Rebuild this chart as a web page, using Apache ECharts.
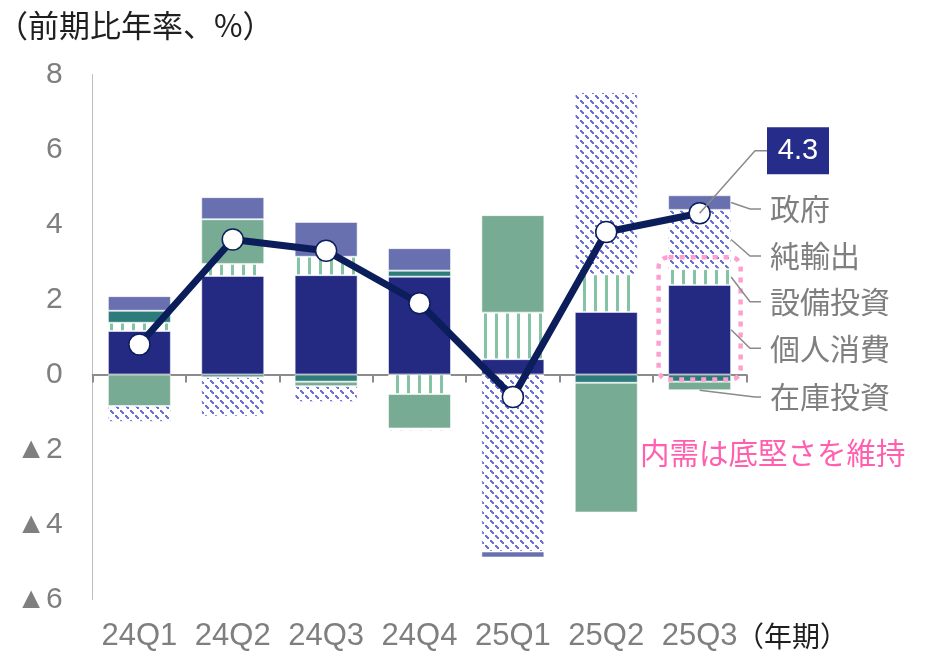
<!DOCTYPE html>
<html>
<head>
<meta charset="utf-8">
<script src="https://cdn.jsdelivr.net/npm/echarts@6/dist/echarts.min.js"></script>
<style>
  html, body { margin: 0; padding: 0; background: #fff; }
  #chart { width: 937px; height: 654px; }
</style>
</head>
<body>
<div id="chart"></div>
<script>
// Quarters on the category axis
const quarters = ['24Q1', '24Q2', '24Q3', '24Q4', '25Q1', '25Q2', '25Q3'];

// Contributions to real GDP growth (annualised q/q, percentage points)
const consumption = [1.16, 2.63, 2.65, 2.61, 0.41, 1.67, 2.39];   // 個人消費
const capex       = [0.22, 0.32, 0.49, -0.52, 1.24, 1.00, 0.42];  // 設備投資
const housing     = [0.32, -0.07, -0.19, 0.16, 0.00, -0.22, -0.19]; // 住宅投資
const inventory   = [-0.84, 1.19, -0.12, -0.92, 2.60, -3.46, -0.23]; // 在庫投資
const netExports  = [-0.42, -1.05, -0.42, -0.06, -4.72, 4.86, 1.58]; // 純輸出
const government  = [0.39, 0.59, 0.93, 0.60, -0.16, 0.00, 0.39];   // 政府

// Headline growth rate
const gdp = [0.8, 3.6, 3.3, 1.9, -0.6, 3.8, 4.3];

// Axis ticks
const yTicks = { min: -6, max: 8, step: 2 };

// Component names shown beside the last bar
const labelNames = ['政府', '純輸出', '設備投資', '個人消費', '在庫投資'];
const yUnitText = '（前期比年率、%）';
const xUnitText = '（年期）';
const noteText = '内需は底堅さを維持';

const JP = '"Noto Sans CJK JP", sans-serif';
const LAT = '"Liberation Sans", Arial, sans-serif';

function stripeTile() {
  const c = document.createElement('canvas');
  c.width = 11; c.height = 4;
  const g = c.getContext('2d');
  g.fillStyle = '#ffffff'; g.fillRect(0, 0, 11, 4);
  g.fillStyle = '#84c3a3'; g.fillRect(0, 0, 3, 4);
  return c;
}
function hatchTile() {
  const n = 10;
  const c = document.createElement('canvas');
  c.width = n; c.height = n;
  const g = c.getContext('2d');
  g.fillStyle = '#ffffff'; g.fillRect(0, 0, n, n);
  g.fillStyle = '#6c71da';
  [0, 1, 2, 5, 6, 7].forEach(i => g.fillRect(i, i, 2, 2));
  return c;
}

const barBorder = { borderColor: 'rgba(255,255,255,0.55)', borderWidth: 1 };
function barSeries(name, data, color) {
  return {
    name, type: 'bar', stack: 'gdp', data, barWidth: 63,
    xAxisIndex: 0, yAxisIndex: 0,
    itemStyle: Object.assign({ color }, barBorder),
    emphasis: { disabled: true }, z: 2
  };
}

const chart = echarts.init(document.getElementById('chart'), null, { renderer: 'canvas' });

chart.setOption({
  animation: false,
  backgroundColor: '#ffffff',
  grid: { left: 92.7, right: 190.7, top: 74.5, bottom: 54.5 },
  xAxis: [
    {
      type: 'category', data: quarters, position: 'bottom',
      axisLine: { show: false, onZero: false },
      axisTick: { show: false },
      axisLabel: { interval: 0, fontSize: 31, color: '#7f7f7f', fontFamily: LAT, margin: 21 }
    },
    {
      type: 'category', data: quarters, position: 'top',
      axisLine: { show: true, onZero: true, lineStyle: { color: '#8c8c8c', width: 2 } },
      axisTick: { show: true, interval: 0, inside: true, length: 8, lineStyle: { color: '#8c8c8c', width: 2 } },
      axisLabel: { show: false }
    }
  ],
  yAxis: {
    type: 'value', min: yTicks.min, max: yTicks.max, interval: yTicks.step,
    axisLine: { show: true, lineStyle: { color: '#bdbdbd', width: 1 } },
    axisTick: { show: false },
    splitLine: { show: false },
    axisLabel: {
      fontSize: 30, color: '#7f7f7f', fontFamily: LAT, margin: 30,
      formatter: v => (v < 0 ? '▲' + (-v) : String(v))
    }
  },
  series: [
    barSeries('個人消費', consumption, '#242a82'),
    barSeries('設備投資', capex, { image: stripeTile(), repeat: 'repeat' }),
    barSeries('住宅投資', housing, '#2e7b7b'),
    barSeries('在庫投資', inventory, '#78ab93'),
    barSeries('純輸出', netExports, { image: hatchTile(), repeat: 'repeat' }),
    barSeries('政府', government, '#6970b0'),
    {
      name: '実質GDP', type: 'line', data: gdp, xAxisIndex: 0, yAxisIndex: 0,
      lineStyle: { color: '#0b1e5b', width: 7 },
      symbol: 'circle', symbolSize: 21,
      itemStyle: { color: '#ffffff', borderColor: '#0b1e5b', borderWidth: 1.5 },
      emphasis: { disabled: true }, z: 5
    }
  ]
});

// Annotations anchored to the last quarter's stacked segments
function px(i, v) { return chart.convertToPixel({ gridIndex: 0 }, [i, v]); }
const last = quarters.length - 1;
const cx = px(last, 0)[0];
const y0 = px(last, 0)[1];
const halfBar = 31.5;

// stacked segment midpoints for the last quarter
const stackOrder = [consumption, capex, housing, inventory, netExports, government];
const keys = ['cons', 'capex', 'housing', 'inv', 'net', 'gov'];
let acc = 0; const mids = {};
stackOrder.forEach((arr, k) => {
  const v = arr[last];
  if (v > 0) { mids[keys[k]] = acc + v / 2; acc += v; }
});
let neg = 0;
stackOrder.forEach(arr => { if (arr[last] < 0) neg += arr[last]; });

const labelX = 770;
const elbowX = 750;
const labelYs = [209, 256, 301.7, 348.3, 397];
const anchors = [
  [cx + halfBar, px(last, mids.gov)[1]],
  [cx + halfBar, px(last, mids.net)[1]],
  [cx + halfBar, px(last, mids.capex)[1]],
  [cx + halfBar, px(last, mids.cons)[1]],
  [cx, px(last, neg)[1]]
];

const graphics = [];
labelNames.forEach((name, k) => {
  const ly = labelYs[k];
  const pts = k === 4
    ? [anchors[k], [755, ly], [761, ly]]
    : [anchors[k], [elbowX, ly], [761, ly]];
  graphics.push({
    type: 'polyline', z: 10,
    shape: { points: pts },
    style: { stroke: '#8a8a8a', lineWidth: 1.5, fill: null }
  });
  graphics.push({
    type: 'text', z: 10,
    style: { text: name, x: labelX, y: ly, fill: '#7f7f7f', font: '30px ' + JP, verticalAlign: 'middle' }
  });
});

// headline value callout
const pt = px(last, gdp[last]);
graphics.push({
  type: 'polyline', z: 10,
  shape: { points: [pt, [755, 150.7], [767, 150.7]] },
  style: { stroke: '#8a8a8a', lineWidth: 1.5, fill: null }
});
graphics.push({
  type: 'rect', z: 10,
  shape: { x: 767, y: 127.3, width: 62, height: 47 },
  style: { fill: '#262c8a' }
});
graphics.push({
  type: 'text', z: 11,
  style: { text: gdp[last].toFixed(1), x: 798, y: 151, fill: '#ffffff', font: '29px ' + LAT, align: 'center', verticalAlign: 'middle' }
});

// domestic demand highlight
const domTop = px(last, consumption[last] + capex[last])[1];
graphics.push({
  type: 'rect', z: 9,
  shape: { x: cx - 41, y: domTop - 12, width: 82, height: y0 + 5 - (domTop - 12), r: 10 },
  style: { fill: null, stroke: '#ff9fcf', lineWidth: 4.5, lineDash: [5, 6] }
});
graphics.push({
  type: 'text', z: 10,
  style: { text: noteText, x: 640, y: 453, fill: '#ff5fae', font: '29.5px ' + JP, verticalAlign: 'middle' }
});

// unit captions
graphics.push({
  type: 'text', z: 10,
  style: { text: yUnitText, x: -3, y: 25, fill: '#1f1f1f', font: '31px ' + JP, verticalAlign: 'middle' }
});
graphics.push({
  type: 'text', z: 10,
  style: { text: xUnitText, x: 736, y: 636, fill: '#1f1f1f', font: '28px ' + JP, verticalAlign: 'middle' }
});

chart.setOption({ graphic: graphics });
</script>
</body>
</html>
